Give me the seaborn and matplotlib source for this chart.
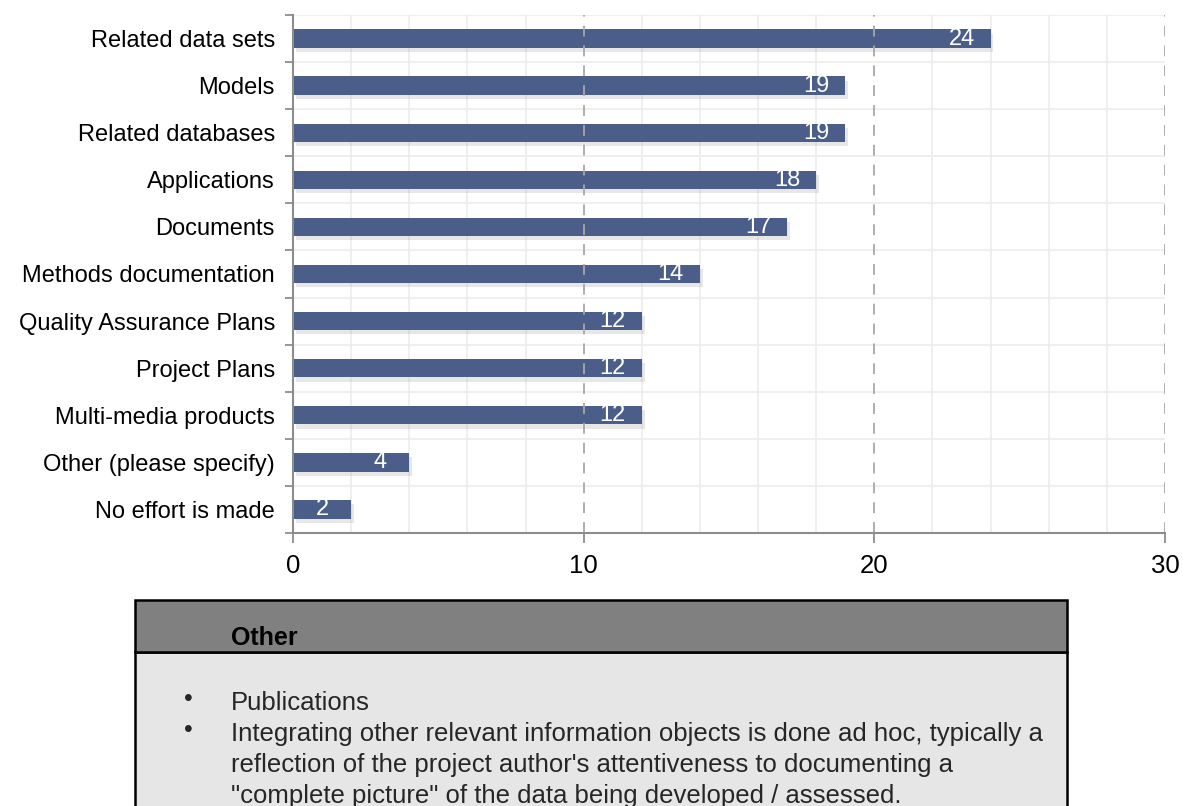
import matplotlib
matplotlib.use("Agg")
import matplotlib.pyplot as plt
import matplotlib.patheffects as pe
from matplotlib.patches import Rectangle
from matplotlib.ticker import MultipleLocator, FixedLocator
import seaborn as sns
import pandas as pd

categories = ["Related data sets", "Models", "Related databases", "Applications",
              "Documents", "Methods documentation", "Quality Assurance Plans",
              "Project Plans", "Multi-media products", "Other (please specify)",
              "No effort is made"]
counts = [24, 19, 19, 18, 17, 14, 12, 12, 12, 4, 2]
x_ticks = [0, 10, 20, 30]
box_title = "Other"
box_items = [
    ["Publications"],
    ["Integrating other relevant information objects is done ad hoc, typically a",
     "reflection of the project author's attentiveness to documenting a",
     "\"complete picture\" of the data being developed / assessed."],
]

sns.set_theme(style="white")
plt.rcParams['font.family'] = ['Liberation Sans', 'DejaVu Sans']

BAR = "#4a5e89"
W, H = 1187, 806
fig = plt.figure(figsize=(W / 100, H / 100), dpi=100)
ax = fig.add_axes([293 / W, 1 - 533 / H, 872 / W, 518 / H])

df = pd.DataFrame({"cat": categories, "n": counts})
sns.barplot(data=df, y="cat", x="n", orient="h", color=BAR, width=0.39,
            saturation=1, ax=ax, zorder=3)

for p in ax.patches:
    p.set_path_effects([pe.SimplePatchShadow(offset=(2, -3), shadow_rgbFace="#a0a0a0", alpha=0.25),
                        pe.Normal()])
    p.set_edgecolor("none")

for i, v in enumerate(counts):
    ax.text(v - 1, i, str(v), ha="center", va="center", color="white", fontsize=17, zorder=5)

ax.set_xlim(0, 30)
ax.set_ylim(len(categories) - 0.5, -0.5)
ax.set_xticks(x_ticks)
ax.xaxis.set_minor_locator(MultipleLocator(2))
ax.yaxis.set_minor_locator(FixedLocator([i - 0.5 for i in range(len(categories) + 1)]))

ax.grid(False)
for xv in range(0, 31, 2):
    if xv % 10 != 0:
        ax.axvline(xv, color="#ececec", lw=1.2, zorder=0)
for xv in x_ticks[1:]:
    ax.axvline(xv, color="#a8a8a8", lw=1.3, ls=(0, (6, 5)), zorder=4)
for yv in [i - 0.5 for i in range(len(categories))]:
    ax.axhline(yv, color="#ececec", lw=1.2, zorder=0)

for s in ["top", "right"]:
    ax.spines[s].set_visible(False)
for s in ["left", "bottom"]:
    ax.spines[s].set_color("#8c8c8c")
    ax.spines[s].set_linewidth(1.5)
    ax.spines[s].set_zorder(6)

ax.tick_params(axis="y", which="major", length=0, labelsize=17, pad=13, labelcolor="black")
ax.tick_params(axis="y", which="minor", length=6, width=1.3, color="#8c8c8c", left=True)
ax.tick_params(axis="x", which="major", length=7, width=1.3, color="#8c8c8c", bottom=True,
               labelsize=18.5, pad=8, labelcolor="black")
ax.tick_params(axis="x", which="minor", length=0)
ax.set_xlabel("")
ax.set_ylabel("")

# Info box
def fx(x):
    return x / W

def fy(y):
    return 1 - y / H

fig.patches.append(Rectangle((fx(135), fy(812)), fx(1067) - fx(135), fy(652) - fy(812),
                             transform=fig.transFigure, facecolor="#e6e6e6",
                             edgecolor="black", lw=1.8, zorder=1))
fig.patches.append(Rectangle((fx(135), fy(652)), fx(1067) - fx(135), fy(600) - fy(652),
                             transform=fig.transFigure, facecolor="#808080",
                             edgecolor="black", lw=1.8, zorder=1))
fig.text(fx(231), fy(645), box_title, fontsize=18, fontweight="bold", ha="left",
         va="baseline", color="black")

line_y = [710, 741, 772, 803]
k = 0
for item in box_items:
    fig.text(fx(188), fy(line_y[k] - 4), "\u2022", fontsize=18, ha="center", va="baseline")
    for line in item:
        fig.text(fx(231), fy(line_y[k]), line, fontsize=18.5, ha="left", va="baseline")
        k += 1

fig.savefig("out.png", dpi=100)
